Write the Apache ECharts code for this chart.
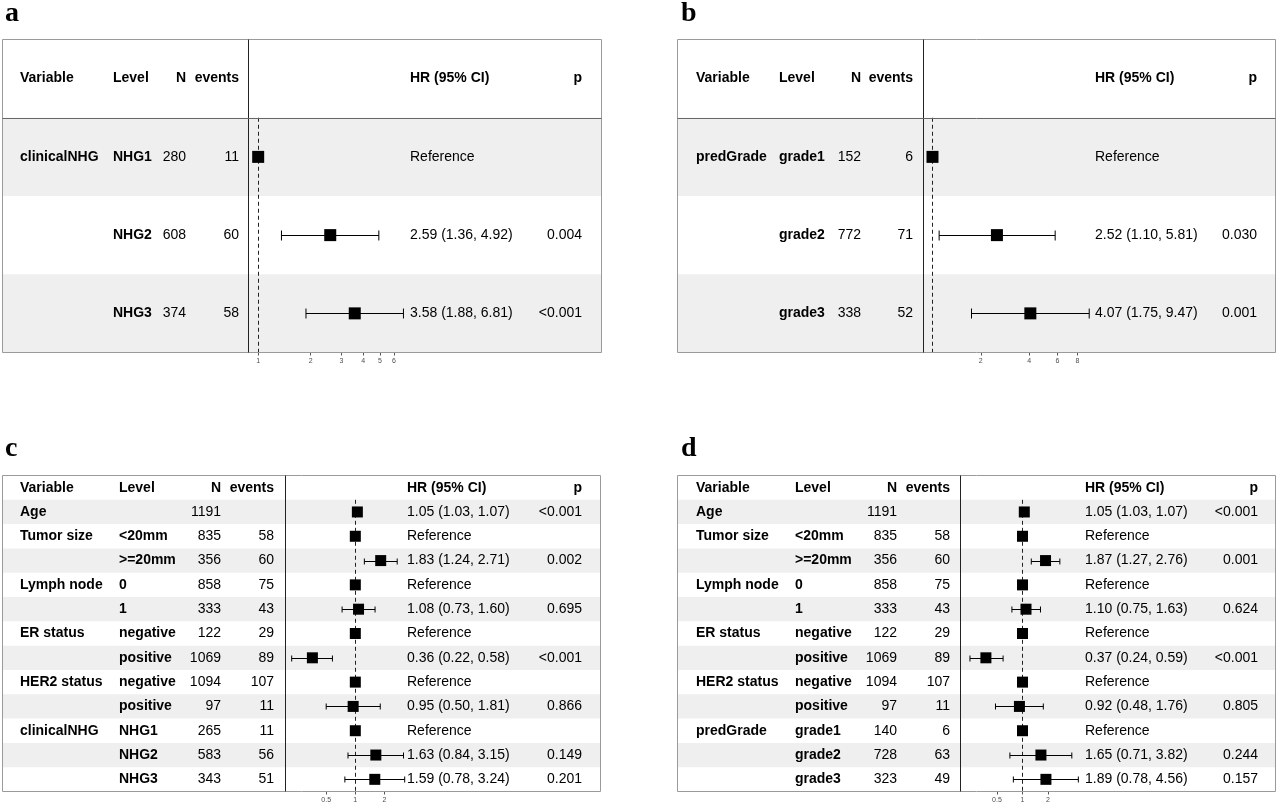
<!DOCTYPE html>
<html>
<head>
<meta charset="utf-8">
<script src="https://cdn.jsdelivr.net/npm/echarts@6.0.0/dist/echarts.min.js"></script>
<style>
html,body{margin:0;padding:0;background:#fff;}
#chart{width:1280px;height:802px;}
</style>
</head>
<body>
<div id="chart"></div>
<script>
// ---------- DATA ----------
// Panel a
const aVariable = ['clinicalNHG', '', ''];
const aLevel    = ['NHG1', 'NHG2', 'NHG3'];
const aN        = [280, 608, 374];
const aEvents   = [11, 60, 58];
const aHR       = [1, 2.59, 3.58];
const aLo       = [null, 1.36, 1.88];
const aHi       = [null, 4.92, 6.81];
const aP        = ['', '0.004', '<0.001'];
const aTicks    = [1, 2, 3, 4, 5, 6];

// Panel b
const bVariable = ['predGrade', '', ''];
const bLevel    = ['grade1', 'grade2', 'grade3'];
const bN        = [152, 772, 338];
const bEvents   = [6, 71, 52];
const bHR       = [1, 2.52, 4.07];
const bLo       = [null, 1.10, 1.75];
const bHi       = [null, 5.81, 9.47];
const bP        = ['', '0.030', '0.001'];
const bTicks    = [2, 4, 6, 8];

// Panel c
const cVariable = ['Age', 'Tumor size', '', 'Lymph node', '', 'ER status', '', 'HER2 status', '', 'clinicalNHG', '', ''];
const cLevel    = ['', '<20mm', '>=20mm', '0', '1', 'negative', 'positive', 'negative', 'positive', 'NHG1', 'NHG2', 'NHG3'];
const cN        = [1191, 835, 356, 858, 333, 122, 1069, 1094, 97, 265, 583, 343];
const cEvents   = [null, 58, 60, 75, 43, 29, 89, 107, 11, 11, 56, 51];
const cHR       = [1.05, 1, 1.83, 1, 1.08, 1, 0.36, 1, 0.95, 1, 1.63, 1.59];
const cLo       = [1.03, null, 1.24, null, 0.73, null, 0.22, null, 0.50, null, 0.84, 0.78];
const cHi       = [1.07, null, 2.71, null, 1.60, null, 0.58, null, 1.81, null, 3.15, 3.24];
const cP        = ['<0.001', '', '0.002', '', '0.695', '', '<0.001', '', '0.866', '', '0.149', '0.201'];
const cTicks    = [0.5, 1, 2];

// Panel d
const dVariable = ['Age', 'Tumor size', '', 'Lymph node', '', 'ER status', '', 'HER2 status', '', 'predGrade', '', ''];
const dLevel    = ['', '<20mm', '>=20mm', '0', '1', 'negative', 'positive', 'negative', 'positive', 'grade1', 'grade2', 'grade3'];
const dN        = [1191, 835, 356, 858, 333, 122, 1069, 1094, 97, 140, 728, 323];
const dEvents   = [null, 58, 60, 75, 43, 29, 89, 107, 11, 6, 63, 49];
const dHR       = [1.05, 1, 1.87, 1, 1.10, 1, 0.37, 1, 0.92, 1, 1.65, 1.89];
const dLo       = [1.03, null, 1.27, null, 0.75, null, 0.24, null, 0.48, null, 0.71, 0.78];
const dHi       = [1.07, null, 2.76, null, 1.63, null, 0.59, null, 1.76, null, 3.82, 4.56];
const dP        = ['<0.001', '', '0.001', '', '0.624', '', '<0.001', '', '0.805', '', '0.244', '0.157'];
const dTicks    = [0.5, 1, 2];

const headers = {variable: 'Variable', level: 'Level', n: 'N', events: 'events', hr: 'HR (95% CI)', p: 'p'};

// ---------- LAYOUT ----------
const panels = [
  {label: 'a', lx: 5, ly: 28, box: [2.5, 39.5, 601.5, 352.5], divider: 248.5, gw: 160, min: 0.880, max: 7.28,
   sq: [12, 12], cap: 5, headerLine: true,
   cols: {v: 20, l: 113, n: 186, e: 239, hr: 410, p: 582},
   d: {v: aVariable, l: aLevel, n: aN, e: aEvents, hr: aHR, lo: aLo, hi: aHi, p: aP, ticks: aTicks}},
  {label: 'b', lx: 681, ly: 28, box: [677.5, 39.5, 1275.5, 352.5], divider: 923.5, gw: 170, min: 0.879, max: 10.07,
   sq: [12, 12], cap: 5, headerLine: true,
   cols: {v: 696, l: 779, n: 861, e: 913, hr: 1095, p: 1257},
   d: {v: bVariable, l: bLevel, n: bN, e: bEvents, hr: bHR, lo: bLo, hi: bHi, p: bP, ticks: bTicks}},
  {label: 'c', lx: 5, ly: 463, box: [2.5, 475.5, 600.5, 791.5], divider: 285.5, gw: 125, min: 0.1898, max: 3.72,
   sq: [11, 11], cap: 3, headerLine: false,
   cols: {v: 20, l: 119, n: 221, e: 274, hr: 407, p: 582},
   d: {v: cVariable, l: cLevel, n: cN, e: cEvents, hr: cHR, lo: cLo, hi: cHi, p: cP, ticks: cTicks}},
  {label: 'd', lx: 681, ly: 463, box: [677.5, 475.5, 1275.5, 791.5], divider: 960.5, gw: 125, min: 0.1855, max: 5.54,
   sq: [11, 11], cap: 3, headerLine: false,
   cols: {v: 696, l: 795, n: 897, e: 950, hr: 1085, p: 1258},
   d: {v: dVariable, l: dLevel, n: dN, e: dEvents, hr: dHR, lo: dLo, hi: dHi, p: dP, ticks: dTicks}}
];

const FONT = '"Liberation Sans", Arial, Helvetica, sans-serif';
const FS = 14;

function hrText(d, i) {
  if (d.lo[i] == null) return 'Reference';
  return d.hr[i].toFixed(2) + ' (' + d.lo[i].toFixed(2) + ', ' + d.hi[i].toFixed(2) + ')';
}

function tableRenderer(P) {
  return function (params, api) {
    const r = api.value(1);
    const yc = api.coord([1, r])[1];
    const yTop = api.coord([1, r - 0.5])[1];
    const yBot = api.coord([1, r + 0.5])[1];
    const c = P.cols, d = P.d;
    const children = [];
    function t(x, s, bold, align) {
      if (s === '' || s == null) return;
      children.push({type: 'text', x: x, y: yc, silent: true,
        style: {text: String(s), fontSize: FS, fontWeight: bold ? 'bold' : 'normal', fontFamily: FONT,
                fill: '#000', align: align, verticalAlign: 'middle'}});
    }
    if (r === 0) {
      t(c.v, headers.variable, true, 'left');
      t(c.l, headers.level, true, 'left');
      t(c.n, headers.n, true, 'right');
      t(c.e, headers.events, true, 'right');
      t(c.hr, headers.hr, true, 'left');
      t(c.p, headers.p, true, 'right');
    } else {
      const i = r - 1;
      if (i % 2 === 0) {
        children.push({type: 'rect', silent: true,
          shape: {x: P.box[0], y: yTop, width: P.box[2] - P.box[0], height: yBot - yTop},
          style: {fill: '#efefef'}});
      }
      t(c.v, d.v[i], true, 'left');
      t(c.l, d.l[i], true, 'left');
      t(c.n, d.n[i], false, 'right');
      t(c.e, d.e[i], false, 'right');
      t(c.hr, hrText(d, i), false, 'left');
      t(c.p, d.p[i], false, 'right');
    }
    return {type: 'group', children: children};
  };
}

function ciRenderer(P) {
  return function (params, api) {
    const lo = api.value(0), hi = api.value(1), r = api.value(2);
    if (lo == null || isNaN(lo)) return null;
    const p1 = api.coord([lo, r]);
    const p2 = api.coord([hi, r]);
    const st = {stroke: '#000', lineWidth: 1};
    const y = Math.round(p1[1]) + 0.5;
    return {type: 'group', silent: true, children: [
      {type: 'line', shape: {x1: p1[0], y1: y, x2: p2[0], y2: y}, style: st},
      {type: 'line', shape: {x1: p1[0], y1: y - P.cap, x2: p1[0], y2: y + P.cap}, style: st},
      {type: 'line', shape: {x1: p2[0], y1: y - P.cap, x2: p2[0], y2: y + P.cap}, style: st}
    ]};
  };
}

const grids = [], xAxes = [], yAxes = [], series = [], graphics = [];

panels.forEach(function (P, k) {
  const n = P.d.l.length;
  grids.push({left: P.divider, top: P.box[1], width: P.gw, height: P.box[3] - P.box[1], outerBoundsMode: 'none', containLabel: false});
  xAxes.push({type: 'log', gridIndex: k, min: P.min, max: P.max, logBase: 10, position: 'bottom',
    axisLine: {show: false, onZero: false}, splitLine: {show: false}, minorTick: {show: false},
    axisTick: {show: true, length: 3, lineStyle: {color: '#555', width: 1}, customValues: P.d.ticks},
    axisLabel: {show: true, customValues: P.d.ticks, fontSize: 7, color: '#4d4d4d', margin: 5, fontFamily: FONT,
      formatter: function (v) { return String(v); }}});
  yAxes.push({type: 'value', gridIndex: k, min: -0.5, max: n + 0.5, inverse: true, show: false,
    axisLine: {onZero: false}});

  const rows = [];
  for (let r = 0; r <= n; r++) rows.push([1, r]);
  series.push({type: 'custom', xAxisIndex: k, yAxisIndex: k, z: 1, silent: true, clip: false,
    encode: {x: 0, y: 1}, data: rows, renderItem: tableRenderer(P)});

  const ci = [];
  for (let i = 0; i < n; i++) if (P.d.lo[i] != null) ci.push([P.d.lo[i], P.d.hi[i], i + 1]);
  series.push({type: 'custom', xAxisIndex: k, yAxisIndex: k, z: 3, silent: true, clip: false,
    encode: {x: [0, 1], y: 2}, data: ci, renderItem: ciRenderer(P)});

  const pts = P.d.hr.map(function (h, i) { return [h, i + 1]; });
  series.push({type: 'scatter', xAxisIndex: k, yAxisIndex: k, z: 4, silent: true,
    symbol: 'rect', symbolSize: P.sq, itemStyle: {color: '#000', opacity: 1},
    data: pts,
    markLine: {silent: true, symbol: 'none', animation: false, z: 2,
      label: {show: false},
      lineStyle: {type: [4, 3], color: '#222', width: 1},
      data: [[{coord: [1, 0.5]}, {coord: [1, n + 0.5]}]]}});

  graphics.push({type: 'rect', z: 100, silent: true,
    shape: {x: P.box[0], y: P.box[1], width: P.box[2] - P.box[0], height: P.box[3] - P.box[1]},
    style: {fill: 'none', stroke: '#9a9a9a', lineWidth: 1}});
  graphics.push({type: 'line', z: 100, silent: true,
    shape: {x1: P.divider, y1: P.box[1], x2: P.divider, y2: P.box[3]},
    style: {stroke: '#222', lineWidth: 1}});
  if (P.headerLine) {
    const hy = Math.round(P.box[1] + (P.box[3] - P.box[1]) / (n + 1)) + 0.5;
    graphics.push({type: 'line', z: 100, silent: true,
      shape: {x1: P.box[0], y1: hy, x2: P.box[2], y2: hy},
      style: {stroke: '#666', lineWidth: 1}});
  }
  graphics.push({type: 'text', z: 100, silent: true, x: P.lx, y: P.ly,
    style: {text: P.label, fontSize: 28, fontWeight: 'bold', fontFamily: '"Liberation Serif", "Times New Roman", serif',
            fill: '#000', align: 'left', verticalAlign: 'bottom'}});
});

const chart = echarts.init(document.getElementById('chart'), null, {renderer: 'canvas'});
chart.setOption({
  animation: false,
  backgroundColor: '#fff',
  grid: grids,
  xAxis: xAxes,
  yAxis: yAxes,
  series: series,
  graphic: {elements: graphics}
});
</script>
</body>
</html>
